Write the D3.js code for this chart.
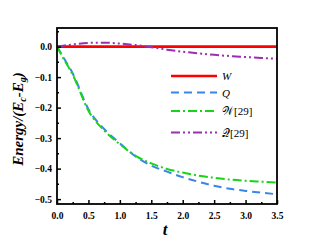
<!DOCTYPE html>
<html><head><meta charset="utf-8">
<script src="https://cdn.jsdelivr.net/npm/d3@7"></script>
<style>body{margin:0;background:#fff}svg{display:block}</style>
</head><body>
<svg id="c" width="322" height="246"></svg>
<script>
const tValues = [0, 0.1, 0.25, 0.5, 0.75, 1.0, 1.25, 1.5, 1.75, 2.0, 2.25, 2.5, 2.75, 3.0, 3.25, 3.5];
const seriesW = [0, 0, 0, 0, 0, 0, 0, 0, 0, 0, 0, 0, 0, 0, 0, 0];
const seriesQ = [0, -0.035, -0.088, -0.205, -0.27, -0.317, -0.36, -0.39, -0.41, -0.428, -0.443, -0.456, -0.466, -0.473, -0.479, -0.484];
const seriesW29 = [0, -0.038, -0.092, -0.21, -0.275, -0.32, -0.358, -0.383, -0.401, -0.413, -0.423, -0.43, -0.436, -0.44, -0.443, -0.446];
const seriesQ29 = [0, 0.003, 0.007, 0.012, 0.013, 0.01, 0.005, -0.002, -0.01, -0.017, -0.022, -0.027, -0.031, -0.034, -0.037, -0.04];
const seriesNames = ["W", "Q", "𝒲[29]", "𝒬[29]"];
const xTicks = [0, 0.5, 1.0, 1.5, 2.0, 2.5, 3.0, 3.5];
const yTicks = [0, -0.1, -0.2, -0.3, -0.4, -0.5];

const svg = d3.select("#c");
const L = 57, R = 277, T = 28, B = 204;
const x = d3.scaleLinear().domain([0, 3.5]).range([L, R]);
const y = d3.scaleLinear().domain([0.061, -0.516]).range([T, B]);

const styles = [
  {color: "#ff0000", dash: null, w: 2.6},
  {color: "#3a86e8", dash: "8,5", w: 2},
  {color: "#19d419", dash: "9,3,2,3", w: 2},
  {color: "#9b2fae", dash: "9,3,2,3,2,3", w: 2}
];
const data = [seriesW, seriesQ, seriesW29, seriesQ29];

const clip = svg.append("clipPath").attr("id","pc").append("rect")
  .attr("x", L).attr("y", T).attr("width", R-L).attr("height", B-T);

const line = d3.line().curve(d3.curveMonotoneX);
const g = svg.append("g").attr("clip-path","url(#pc)");
data.forEach((s, i) => {
  const pts = tValues.map((t, k) => [x(t), y(s[k])]);
  g.append("path").attr("d", line(pts)).attr("fill","none")
    .attr("stroke", styles[i].color).attr("stroke-width", styles[i].w)
    .attr("stroke-dasharray", styles[i].dash);
});

// Axes
const font = "'Liberation Serif', 'Times New Roman', serif";
const xAxis = d3.axisBottom(x).tickValues(xTicks).tickSizeInner(-4).tickSizeOuter(0).tickFormat(d3.format(".1f"));
const xa = svg.append("g").attr("transform", `translate(0,${B})`).call(xAxis);
const xMinor = d3.axisBottom(x).tickValues(d3.range(0.25, 3.5, 0.5)).tickSizeInner(-2).tickSizeOuter(0).tickFormat("");
const xm = svg.append("g").attr("transform", `translate(0,${B})`).call(xMinor);
const yAxis = d3.axisLeft(y).tickValues(yTicks).tickSizeInner(-4).tickSizeOuter(0).tickFormat(d3.format(".1f"));
const ya = svg.append("g").attr("transform", `translate(${L},0)`).call(yAxis);
const yMinor = d3.axisLeft(y).tickValues([0.05, -0.05, -0.15, -0.25, -0.35, -0.45]).tickSizeInner(-2).tickSizeOuter(0).tickFormat("");
const ym = svg.append("g").attr("transform", `translate(${L},0)`).call(yMinor);
[xa, xm, ya, ym].forEach(a => {
  a.select(".domain").remove();
  a.selectAll(".tick line").attr("stroke", "#000").attr("stroke-width", 1.5);
  a.selectAll(".tick text").attr("font-family", font).attr("font-weight", "bold")
    .attr("font-size", 9.5).attr("fill", "#000");
});
xa.selectAll(".tick text").attr("y", 8);
ya.selectAll(".tick text").attr("x", -5);

svg.append("rect").attr("x", L).attr("y", T).attr("width", R-L).attr("height", B-T)
  .attr("fill","none").attr("stroke","#000").attr("stroke-width", 1.8);

// Axis labels
svg.append("text").attr("x", 165).attr("y", 235).attr("text-anchor","middle")
  .attr("font-family", font).attr("font-weight","bold").attr("font-style","italic")
  .attr("font-size", 17).text("t");
const yl = svg.append("text").attr("transform", "translate(23,119) rotate(-90)")
  .attr("text-anchor","middle").attr("font-family", font).attr("font-weight","bold")
  .attr("font-style","italic").attr("font-size", 15);
yl.append("tspan").text("Energy/(E");
yl.append("tspan").attr("font-size", 10).attr("dy", 3).text("c");
yl.append("tspan").attr("dy", -3).text("-E");
yl.append("tspan").attr("font-size", 10).attr("dy", 3).text("g");
yl.append("tspan").attr("dy", -3).text(")");

// Legend
const legY = [76, 92.5, 111, 132.5];
seriesNames.forEach((n, i) => {
  svg.append("line").attr("x1", 171).attr("x2", 217).attr("y1", legY[i]).attr("y2", legY[i])
    .attr("stroke", styles[i].color).attr("stroke-width", styles[i].w)
    .attr("stroke-dasharray", styles[i].dash);
  svg.append("text").attr("x", 222).attr("y", legY[i] + 4)
    .attr("font-family", font).attr("font-size", 11).attr("font-style", i < 2 ? "italic" : "normal")
    .text(n);
});
</script>
</body></html>
